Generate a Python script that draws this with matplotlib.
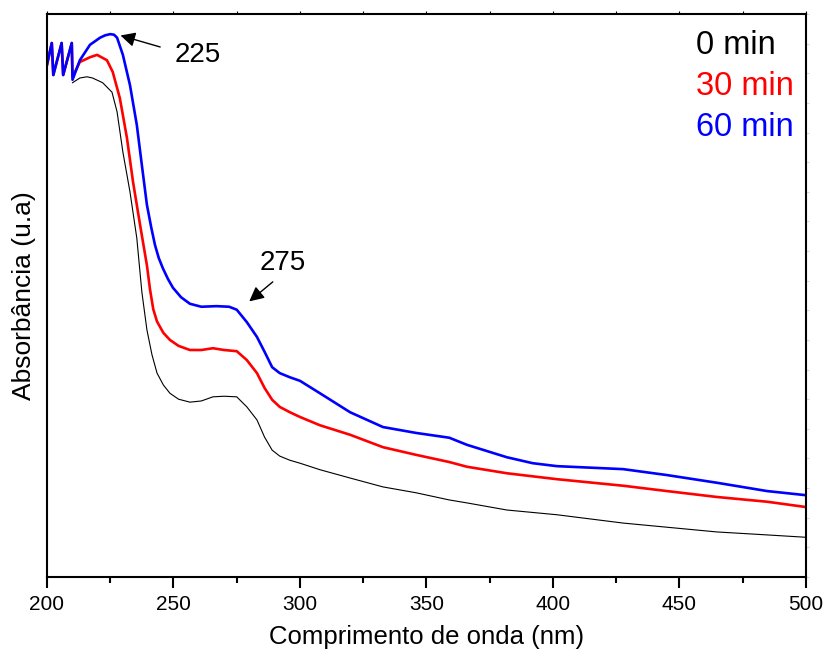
import matplotlib
matplotlib.use("Agg")
import matplotlib.pyplot as plt
from matplotlib.ticker import MultipleLocator

plt.rcParams['font.family'] = ['Liberation Sans', 'DejaVu Sans']

# wavelengths (nm) and absorbance (u.a.)
wl_60 = [200.0, 201.9, 202.5, 205.8, 206.4, 209.8, 210.1, 213, 217, 221, 223, 225, 226.5,
         227.7, 230, 232.8, 235.5, 237.5, 239.5, 241.2, 242.7, 244.2, 245.8, 247.8, 249.8,
         253, 256.5, 261, 267, 272, 275, 279, 283, 286, 289, 292, 296, 300, 307.9, 319.8,
         332.8, 346, 359, 366, 381.8, 392, 401.6, 427.7, 445, 464.8, 484.6, 500]
abs_60 = [0.864, 0.901, 0.847, 0.901, 0.847, 0.901, 0.839, 0.872, 0.898, 0.910, 0.914, 0.916,
          0.915, 0.910, 0.881, 0.830, 0.763, 0.695, 0.628, 0.590, 0.560, 0.538, 0.521, 0.503,
          0.488, 0.472, 0.461, 0.456, 0.457, 0.456, 0.451, 0.430, 0.405, 0.380, 0.354, 0.344,
          0.337, 0.331, 0.310, 0.278, 0.253, 0.243, 0.235, 0.223, 0.202, 0.192, 0.187, 0.182,
          0.172, 0.159, 0.145, 0.138]

wl_30 = [200.0, 201.9, 202.5, 205.8, 206.4, 209.8, 210.1, 213, 217, 219.8, 223.7, 226, 228.8,
         231.6, 234, 236.8, 239.5, 240.7, 242.0, 243.5, 246, 248.6, 252, 256.5, 261, 265.6,
         270, 275, 279, 283, 286, 289, 292, 296, 300, 307.9, 319.8, 332.8, 346, 359, 366,
         381.8, 401.6, 427.7, 445, 464.8, 484.6, 500]
abs_30 = [0.864, 0.901, 0.847, 0.901, 0.847, 0.901, 0.844, 0.869, 0.877, 0.881, 0.872, 0.852,
          0.808, 0.741, 0.667, 0.594, 0.526, 0.486, 0.452, 0.431, 0.412, 0.400, 0.390, 0.383,
          0.383, 0.386, 0.383, 0.381, 0.366, 0.344, 0.319, 0.299, 0.287, 0.278, 0.270, 0.256,
          0.240, 0.219, 0.206, 0.194, 0.186, 0.175, 0.165, 0.154, 0.145, 0.135, 0.127, 0.118]

wl_0 = [210.1, 213, 215.8, 218, 222, 225.7, 227.7, 230, 232.8, 235.5, 237.5, 239.5, 241.5,
        243.5, 246, 248.6, 252, 256.5, 261, 265.6, 270, 275, 279, 283, 286, 289, 292, 296,
        300, 307.9, 319.8, 332.8, 346, 359, 366, 381.8, 401.6, 427.7, 445, 464.8, 484.6, 500]
abs_0 = [0.834, 0.842, 0.844, 0.842, 0.834, 0.818, 0.785, 0.717, 0.650, 0.572, 0.481, 0.417,
         0.375, 0.344, 0.324, 0.310, 0.300, 0.295, 0.297, 0.304, 0.305, 0.304, 0.287, 0.265,
         0.236, 0.214, 0.204, 0.197, 0.192, 0.181, 0.167, 0.152, 0.142, 0.130, 0.125, 0.113,
         0.105, 0.091, 0.084, 0.076, 0.071, 0.067]

labels = ['0 min', '30 min', '60 min']
colors = ['black', 'red', 'blue']

fig = plt.figure(figsize=(8.27, 6.53), dpi=100)
ax = fig.add_axes([0.0568, 0.1164, 0.9178, 0.8622])

ax.plot(wl_0, abs_0, color='black', lw=0.8)
ax.plot(wl_30, abs_30, color='red', lw=1.9)
ax.plot(wl_60, abs_60, color='blue', lw=1.9)

ax.set_xlim(200, 500)
ax.set_ylim(0, 0.95)
ax.xaxis.set_major_locator(MultipleLocator(50))
ax.xaxis.set_minor_locator(MultipleLocator(25))
ax.yaxis.set_major_locator(MultipleLocator(0.05))

for s in ax.spines.values():
    s.set_linewidth(1.5)

ax.tick_params(axis='x', which='major', direction='out', length=8, width=1.5,
               labelsize=15, pad=5)
ax.tick_params(axis='x', which='minor', direction='out', length=4.5, width=1.5)
ax.tick_params(axis='x', which='both', top=True)
ax.tick_params(axis='y', which='both', left=False, right=True, labelleft=False,
               direction='out', length=2.5, width=0.8, color='#d8d8d8')
# faint top ticks
for t in ax.xaxis.get_major_ticks() + ax.xaxis.get_minor_ticks():
    t.tick2line.set_color('#dcdcdc')
    t.tick2line.set_markersize(2.5)
    t.tick2line.set_markeredgewidth(0.8)

ax.set_xlabel('Comprimento de onda (nm)', fontsize=18.5, labelpad=8)
ax.set_ylabel('Absorbância (u.a)', fontsize=19, labelpad=8)

# peak annotations
ax.annotate('', xy=(228.0, 0.915), xytext=(245.8, 0.893),
            arrowprops=dict(arrowstyle='-|>', color='black', lw=1, mutation_scale=22))
ax.text(259.7, 0.881, '225', fontsize=20, ha='center', va='center')
ax.annotate('', xy=(279.1, 0.462), xytext=(290.1, 0.501),
            arrowprops=dict(arrowstyle='-|>', color='black', lw=1, mutation_scale=22))
ax.text(293.3, 0.530, '275', fontsize=20, ha='center', va='center')

for i, (lab, c) in enumerate(zip(labels, colors)):
    ax.text(0.855, 0.944 - i * 0.073, lab, color=c, fontsize=23.5,
            ha='left', va='center', transform=ax.transAxes)

fig.savefig('out.png', dpi=100)
